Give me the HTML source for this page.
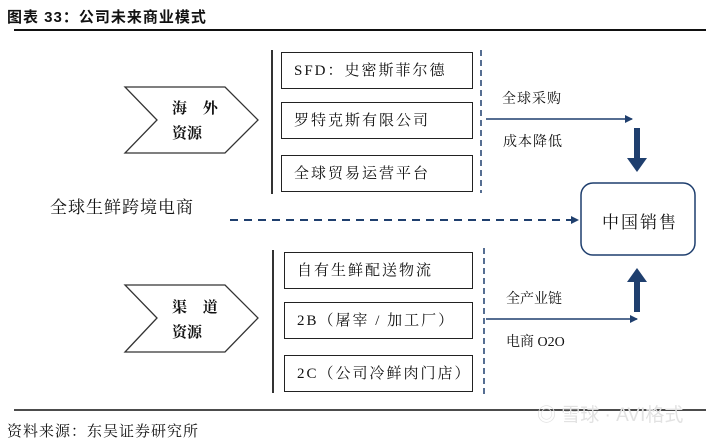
<!DOCTYPE html>
<html><head><meta charset="utf-8"><style>
body{margin:0;width:720px;height:439px;background:#fff;overflow:hidden;position:relative;font-family:"Liberation Serif","Noto Serif CJK SC",serif;color:#111}
.a{position:absolute}
.box{position:absolute;border:1.5px solid #222;box-sizing:border-box;font-size:15px;line-height:36px;padding-left:12px;white-space:nowrap;letter-spacing:2px}
</style></head><body>
<div class="a" style="left:7px;top:6px;font:bold 15px 'Liberation Sans','Noto Sans CJK SC',sans-serif;letter-spacing:1px">图表 33：公司未来商业模式</div>
<div class="a" style="left:14px;top:29px;width:692px;height:2px;background:#111"></div>

<svg class="a" style="left:0;top:0" width="720" height="439">
<defs><marker id="m" markerWidth="8" markerHeight="8" refX="7" refY="4" orient="auto" markerUnits="userSpaceOnUse"><path d="M0,0 L8,4 L0,8 z" fill="#1f3f6e"/></marker></defs>
<polygon points="125,87 225,87 258,120 225,153 125,153 157,120" fill="#fff" stroke="#333" stroke-width="1.3"/>
<polygon points="125,285 225,285 258,318 225,352 125,352 157,318" fill="#fff" stroke="#333" stroke-width="1.3"/>
<line x1="272" y1="50" x2="272" y2="194" stroke="#333" stroke-width="2"/>
<line x1="273" y1="250" x2="273" y2="393" stroke="#333" stroke-width="2"/>
<line x1="481" y1="50" x2="481" y2="193" stroke="#1f3f6e" stroke-width="1.5" stroke-dasharray="6,4"/>
<line x1="484" y1="248" x2="484" y2="395" stroke="#1f3f6e" stroke-width="1.5" stroke-dasharray="6,4"/>
<line x1="486" y1="119" x2="632" y2="119" stroke="#1f3f6e" stroke-width="1.5" marker-end="url(#m)"/>
<line x1="486" y1="319" x2="637" y2="319" stroke="#1f3f6e" stroke-width="1.5" marker-end="url(#m)"/>
<line x1="230" y1="220" x2="578" y2="220" stroke="#1f3f6e" stroke-width="2" stroke-dasharray="8,6" marker-end="url(#m)"/>
<rect x="634" y="128" width="6" height="32" fill="#1f3f6e"/><polygon points="627,158 647,158 637,172" fill="#1f3f6e"/>
<rect x="634" y="280" width="6" height="32" fill="#1f3f6e"/><polygon points="627,282 647,282 637,268" fill="#1f3f6e"/>
<rect x="581" y="183" width="114" height="72" rx="12" fill="#fff" stroke="#1f3f6e" stroke-width="1.5"/>
<line x1="14" y1="410" x2="706" y2="410" stroke="#111" stroke-width="1.5"/>
</svg>

<div class="a" style="left:172px;top:97px;font-size:15px;font-weight:bold;letter-spacing:6px">海 外</div>
<div class="a" style="left:172px;top:122px;font-size:15px;font-weight:bold">资源</div>
<div class="a" style="left:172px;top:296px;font-size:15px;font-weight:bold;letter-spacing:6px">渠 道</div>
<div class="a" style="left:172px;top:321px;font-size:15px;font-weight:bold">资源</div>

<div class="box" style="left:281px;top:52px;width:192px;height:37px">SFD：史密斯菲尔德</div>
<div class="box" style="left:281px;top:102px;width:192px;height:37px">罗特克斯有限公司</div>
<div class="box" style="left:281px;top:155px;width:192px;height:37px">全球贸易运营平台</div>
<div class="box" style="left:284px;top:252px;width:189px;height:37px">自有生鲜配送物流</div>
<div class="box" style="left:284px;top:302px;width:189px;height:37px">2B（屠宰 / 加工厂）</div>
<div class="box" style="left:284px;top:355px;width:189px;height:37px">2C（公司冷鲜肉门店）</div>

<div class="a" style="left:50px;top:193px;font-size:17px;letter-spacing:1px">全球生鲜跨境电商</div>
<div class="a" style="left:502px;top:88px;font-size:14px;letter-spacing:1px">全球采购</div>
<div class="a" style="left:503px;top:131px;font-size:14px;letter-spacing:1px">成本降低</div>
<div class="a" style="left:506px;top:288px;font-size:14px">全产业链</div>
<div class="a" style="left:506px;top:331px;font-size:14px">电商 O2O</div>
<div class="a" style="left:602px;top:208px;font-size:17px;letter-spacing:2px">中国销售</div>
<div class="a" style="left:7px;top:420px;font-size:15px;letter-spacing:1px">资料来源：东吴证券研究所</div>
<div class="a" style="left:537px;top:400px;font:19px 'Liberation Sans','Noto Sans CJK SC',sans-serif;color:#e2e2e2">◎ 雪球 · AVI格式</div>
</body></html>
